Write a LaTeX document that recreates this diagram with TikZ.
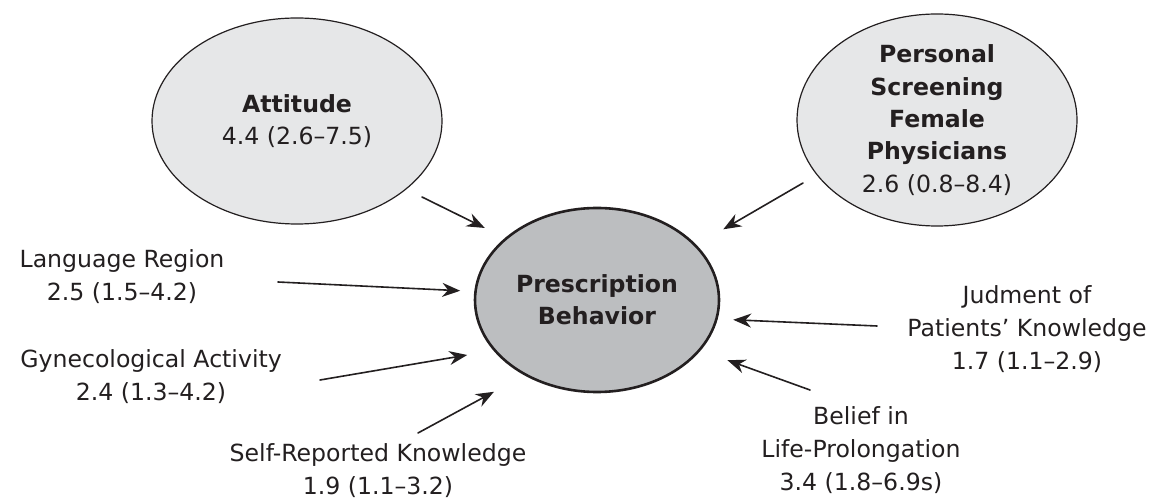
\documentclass[tikz,border=0pt]{standalone}
\usepackage{fontspec}
\setmainfont{DejaVu Sans}
\usetikzlibrary{arrows.meta, shapes.geometric}

\definecolor{lightfill}{HTML}{E6E7E8}
\definecolor{darkfill}{HTML}{BCBEC0}
\definecolor{ink}{HTML}{231F20}

\begin{document}
\begin{tikzpicture}[x=0.5pt, y=-0.5pt, line cap=round, line join=round, >={Stealth[length=9pt, width=7pt]},
    factor/.style={ellipse, draw=ink, fill=lightfill, line width=0.6pt, inner sep=0pt, text=ink, align=center, font=\fontsize{11.8}{16.2}\selectfont},
    outcome/.style={factor, fill=darkfill, line width=1.3pt},
    var/.style={align=center, text=ink, inner sep=0pt, font=\fontsize{11.8}{16.5}\selectfont},
    arr/.style={->, draw=ink, line width=0.8pt}]

    % Frame
    \useasboundingbox (0,0) rectangle (1170,501);

    % Ellipses
    \node[outcome, minimum width=122pt, minimum height=92pt] (presc) at (597,300) {\textbf{Prescription}\\\textbf{Behavior}};
    \node[factor, minimum width=145pt, minimum height=103pt] (att) at (297,121) {\textbf{Attitude}\\4.4 (2.6--7.5)};
    \node[factor, minimum width=140pt, minimum height=106pt, inner ysep=-3pt] (pers) at (937,120) {\textbf{Personal}\\\textbf{Screening}\\\textbf{Female}\\\textbf{Physicians}\\2.6 (0.8--8.4)};

    % Predictors
    \node[var] (lang) at (122,277) {Language Region\\2.5 (1.5--4.2)};
    \node[var] (gyn) at (151,377) {Gynecological Activity\\2.4 (1.3--4.2)};
    \node[var] (self) at (378,471) {Self-Reported Knowledge\\1.9 (1.1--3.2)};
    \node[var] (judg) at (1027,329) {Judment of\\Patients' Knowledge\\1.7 (1.1--2.9)};
    \node[var] (bel) at (861,450) {Belief in\\Life-Prolongation\\3.4 (1.8--6.9s)};

    % Arrow tails
    \coordinate (att-tail) at (422,197);
    \coordinate (pers-tail) at (803,183);
    \coordinate (lang-tail) at (278,282);
    \coordinate (gyn-tail) at (320,380);
    \coordinate (self-tail) at (418,433);
    \coordinate (judg-tail) at (877,326);
    \coordinate (bel-tail) at (810,390);

    % Arrows
    \draw[arr, shorten >=11.25pt] (att-tail) -- (presc.146);
    \draw[arr, shorten >=15.5pt] (pers-tail) -- (presc.29);
    \draw[arr, shorten >=7pt] (lang-tail) -- (presc.176);
    \draw[arr, shorten >=13.25pt] (gyn-tail) -- (presc.206);
    \draw[arr, shorten >=17.25pt] (self-tail) -- (presc.226);
    \draw[arr, shorten >=7.75pt] (judg-tail) -- (presc.351);
    \draw[arr, shorten >=14.25pt] (bel-tail) -- (presc.334);

\end{tikzpicture}
\end{document}
